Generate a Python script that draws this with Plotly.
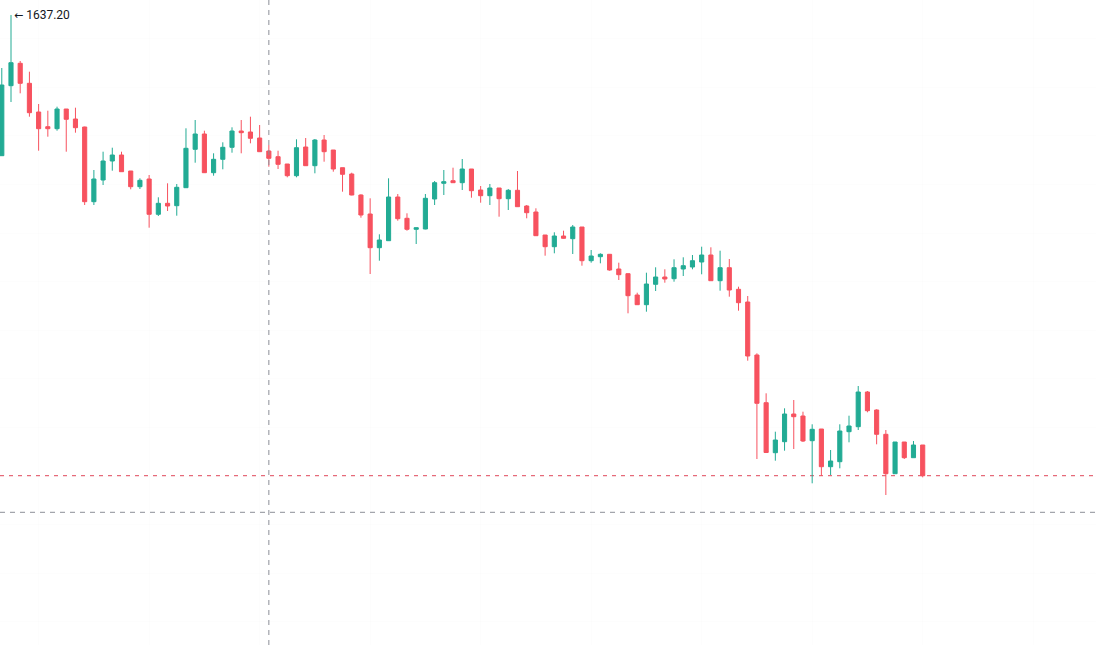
import plotly.graph_objects as go

# ---- data (bar index, OHLC) ----
bars = list(range(101))
opens = [1623.13, 1630.13, 1632.37, 1630.37, 1627.5, 1626.03, 1625.83, 1627.8, 1626.8, 1626.0,
         1618.53, 1620.7, 1622.6, 1623.2, 1621.6, 1620.03, 1620.8, 1617.27, 1618.37, 1618.13,
         1619.93, 1623.77, 1625.3, 1621.43, 1622.77, 1623.97, 1625.6, 1625.5, 1624.9, 1623.6,
         1623.03, 1622.3, 1621.13, 1624.0, 1622.13, 1624.7, 1623.7, 1621.93, 1621.3, 1619.2,
         1617.3, 1613.93, 1614.63, 1619.0, 1616.87, 1615.77, 1615.8, 1618.8, 1620.37, 1620.63,
         1620.43, 1621.8, 1619.7, 1619.13, 1619.9, 1618.83, 1619.67, 1618.1, 1617.5, 1615.2,
         1614.03, 1615.1, 1614.83, 1616.0, 1612.63, 1613.03, 1613.27, 1611.8, 1611.33, 1609.2,
         1608.23, 1610.27, 1611.0, 1610.83, 1611.8, 1612.0, 1612.5, 1613.2, 1610.63, 1611.93,
         1609.77, 1608.5, 1603.2, 1598.43, 1593.43, 1594.53, 1597.3, 1597.1, 1594.63, 1595.8,
         1592.03, 1592.53, 1595.53, 1596.03, 1599.5, 1597.7, 1595.27, 1591.33, 1594.5, 1592.93,
         1594.2]
highs = [1631.9, 1637.2, 1632.6, 1631.53, 1628.3, 1627.63, 1628.03, 1627.8, 1627.93, 1626.03,
         1621.7, 1623.53, 1623.93, 1623.53, 1621.6, 1620.87, 1621.2, 1618.97, 1620.37, 1620.3,
         1625.87, 1626.7, 1625.63, 1623.37, 1624.47, 1625.97, 1626.7, 1627.03, 1626.2, 1624.2,
         1623.63, 1622.3, 1624.77, 1624.9, 1624.8, 1625.2, 1623.7, 1621.93, 1621.43, 1619.27,
         1618.87, 1615.27, 1620.87, 1619.3, 1617.37, 1615.93, 1619.3, 1620.6, 1621.7, 1621.93,
         1622.8, 1621.8, 1620.1, 1620.3, 1619.9, 1619.8, 1621.6, 1618.2, 1617.87, 1615.2,
         1615.47, 1615.63, 1616.2, 1616.0, 1613.7, 1613.37, 1613.3, 1612.43, 1611.37, 1609.43,
         1611.43, 1611.97, 1611.77, 1612.77, 1612.97, 1613.2, 1614.03, 1613.97, 1613.63, 1612.8,
         1610.03, 1609.1, 1603.37, 1599.37, 1595.53, 1597.87, 1598.7, 1597.53, 1596.27, 1595.8,
         1593.7, 1596.27, 1597.13, 1600.1, 1599.6, 1597.77, 1595.7, 1594.5, 1594.5, 1594.6,
         1594.2]
lows = [1623.1, 1628.5, 1629.37, 1627.03, 1623.63, 1625.03, 1625.63, 1623.53, 1625.43, 1618.2,
        1618.2, 1620.2, 1621.63, 1621.53, 1619.77, 1619.8, 1615.93, 1617.1, 1617.6, 1617.13,
        1619.9, 1622.43, 1621.4, 1621.13, 1621.77, 1623.43, 1623.37, 1624.37, 1623.5, 1622.03,
        1621.8, 1620.97, 1620.97, 1622.1, 1621.37, 1622.53, 1621.53, 1619.53, 1619.17, 1616.93,
        1611.3, 1612.63, 1614.6, 1616.63, 1615.63, 1614.3, 1615.77, 1618.2, 1619.2, 1620.4,
        1619.7, 1618.93, 1618.43, 1618.2, 1617.03, 1617.7, 1618.0, 1616.87, 1615.1, 1613.13,
        1613.37, 1614.83, 1613.3, 1612.13, 1612.43, 1612.37, 1611.63, 1610.7, 1607.37, 1608.2,
        1607.53, 1609.6, 1610.43, 1610.53, 1611.1, 1611.77, 1611.27, 1610.6, 1609.63, 1609.03,
        1607.63, 1602.63, 1592.8, 1593.4, 1592.63, 1593.63, 1593.8, 1594.5, 1590.37, 1591.1,
        1591.2, 1591.87, 1594.47, 1595.7, 1597.47, 1594.27, 1589.2, 1591.33, 1592.8, 1592.93,
        1590.97]
closes = [1630.2, 1632.43, 1630.37, 1627.43, 1625.83, 1625.83, 1627.8, 1626.77, 1625.93, 1618.53,
          1620.8, 1622.6, 1623.2, 1621.53, 1620.03, 1620.67, 1617.27, 1618.37, 1618.1, 1619.97,
          1623.87, 1625.3, 1621.43, 1622.77, 1623.97, 1625.6, 1625.43, 1624.87, 1623.53, 1622.87,
          1622.27, 1621.13, 1623.93, 1622.13, 1624.7, 1623.53, 1621.8, 1621.27, 1619.2, 1617.2,
          1613.93, 1614.7, 1619.0, 1616.83, 1615.77, 1615.93, 1618.87, 1620.43, 1620.53, 1620.43,
          1621.8, 1619.63, 1619.13, 1619.9, 1618.83, 1619.67, 1618.03, 1617.43, 1615.13, 1614.03,
          1615.1, 1614.87, 1616.0, 1612.63, 1613.1, 1613.27, 1611.7, 1611.23, 1609.13, 1608.23,
          1610.3, 1611.0, 1610.8, 1611.93, 1612.13, 1612.63, 1613.2, 1610.63, 1611.93, 1609.7,
          1608.43, 1603.1, 1598.37, 1593.45, 1594.7, 1597.3, 1597.03, 1594.6, 1595.77, 1592.03,
          1592.6, 1595.6, 1596.1, 1599.5, 1597.63, 1595.27, 1591.33, 1594.5, 1592.93, 1594.2,
          1591.13]

high_label = "<span style='font-family:DejaVu Sans;font-size:11px'>←</span> 1637.20"
high_bar = 1
crosshair_bar = 29
crosshair_price = 1587.47

UP = "#22ab94"
DOWN = "#f7525f"

fig = go.Figure()
fig.add_trace(go.Candlestick(
    x=bars, open=opens, high=highs, low=lows, close=closes,
    increasing=dict(line=dict(color=UP, width=1), fillcolor=UP),
    decreasing=dict(line=dict(color=DOWN, width=1), fillcolor=DOWN),
    whiskerwidth=0, showlegend=False, hoverinfo="skip",
))

# last price line
fig.add_shape(type="line", xref="paper", x0=0, x1=1, y0=closes[-1], y1=closes[-1],
              line=dict(color="#e0485a", width=1, dash="4px,5px"), layer="below")
# crosshair
fig.add_shape(type="line", xref="paper", x0=0, x1=1, y0=crosshair_price, y1=crosshair_price,
              line=dict(color="#8c8f98", width=1, dash="5px,5px"), layer="above")
fig.add_shape(type="line", yref="paper", y0=0, y1=1, x0=crosshair_bar, x1=crosshair_bar,
              line=dict(color="#8c8f98", width=1, dash="5px,5px"), layer="above")

fig.add_annotation(x=high_bar, y=max(highs), text=high_label, showarrow=False,
                   xanchor="left", yanchor="middle", xshift=1,
                   font=dict(family="Roboto, Arial, sans-serif", size=12, color="#131722"))

fig.update_layout(
    width=1096, height=645,
    margin=dict(l=0, r=0, t=0, b=0),
    paper_bgcolor="white", plot_bgcolor="white",
    boxgap=0.36,
    xaxis=dict(range=[-0.194, 118.82], rangeslider=dict(visible=False),
               showticklabels=False, ticks="", zeroline=False, showline=False,
               showgrid=True, gridcolor="rgba(0,0,0,0.007)", tick0=4, dtick=12),
    yaxis=dict(range=[1574.2, 1638.7], showticklabels=False, ticks="", zeroline=False,
               showline=False, showgrid=True, gridcolor="rgba(0,0,0,0.007)",
               tick0=1610.53, dtick=4.86),
    hovermode=False,
)

fig.write_html("out.html")
